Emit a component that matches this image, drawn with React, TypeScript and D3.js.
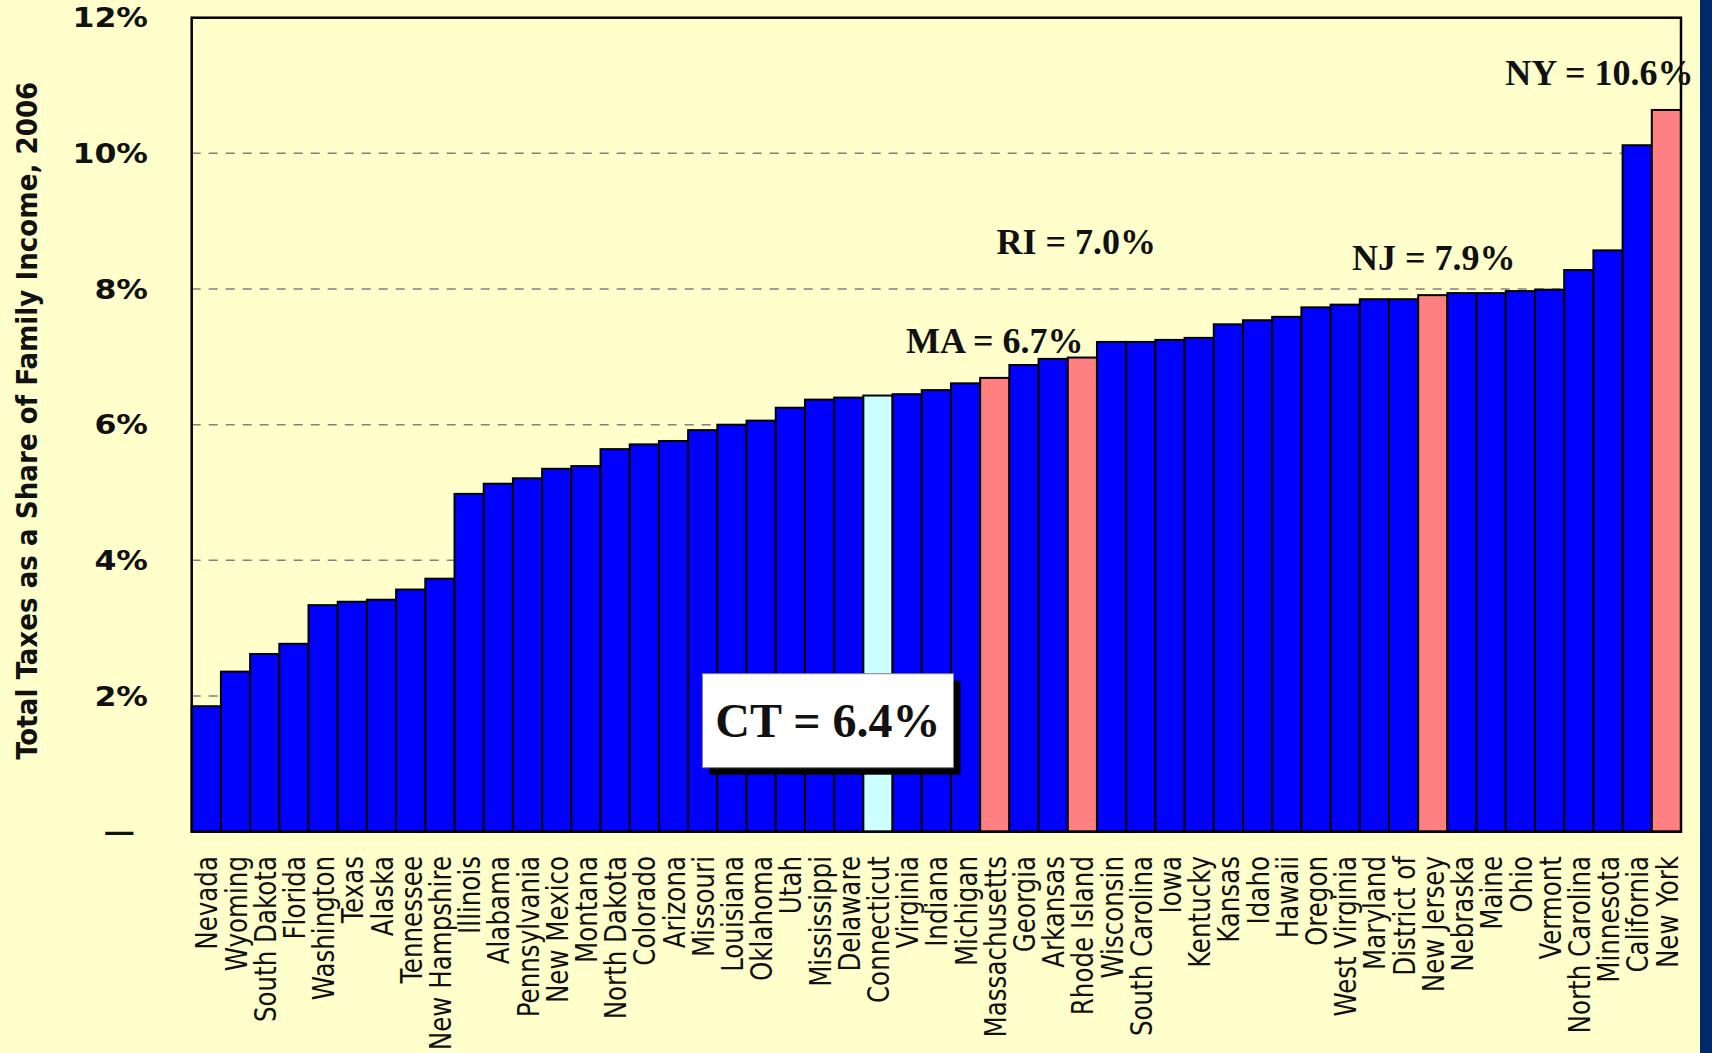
import React, { useEffect, useRef } from 'react';
import * as d3 from 'd3';

// States ordered from lowest to highest tax share
const states = [
  'Nevada', 'Wyoming', 'South Dakota', 'Florida', 'Washington', 'Texas', 'Alaska',
  'Tennessee', 'New Hampshire', 'Illinois', 'Alabama', 'Pennsylvania', 'New Mexico',
  'Montana', 'North Dakota', 'Colorado', 'Arizona', 'Missouri', 'Louisiana', 'Oklahoma',
  'Utah', 'Mississippi', 'Delaware', 'Connecticut', 'Virginia', 'Indiana', 'Michigan',
  'Massachusetts', 'Georgia', 'Arkansas', 'Rhode Island', 'Wisconsin', 'South Carolina',
  'Iowa', 'Kentucky', 'Kansas', 'Idaho', 'Hawaii', 'Oregon', 'West Virginia', 'Maryland',
  'District of', 'New Jersey', 'Nebraska', 'Maine', 'Ohio', 'Vermont', 'North Carolina',
  'Minnesota', 'California', 'New York'
];

// Total taxes as % of family income, 2006
const taxShare = [
  1.85, 2.36, 2.62, 2.77, 3.34, 3.39, 3.42,
  3.57, 3.73, 4.98, 5.13, 5.21, 5.35,
  5.39, 5.64, 5.71, 5.76, 5.92, 6.00, 6.06,
  6.25, 6.37, 6.40, 6.43, 6.45, 6.51, 6.61,
  6.69, 6.88, 6.97, 6.99, 7.22, 7.22,
  7.25, 7.28, 7.48, 7.54, 7.59, 7.73, 7.77, 7.85,
  7.85, 7.91, 7.94, 7.94, 7.97, 7.99, 8.28,
  8.57, 10.12, 10.64
];

const redStates = ['Massachusetts', 'Rhode Island', 'New Jersey', 'New York'];
const homeState = 'Connecticut';
const yTicks = [0, 2, 4, 6, 8, 10, 12];

// callout text, offset from the top-centre of its bar
const callouts = [
  { state: 'Massachusetts', label: 'MA = 6.7%', dx: 0, dy: -25 },
  { state: 'Rhode Island', label: 'RI = 7.0%', dx: -6, dy: -104 },
  { state: 'New Jersey', label: 'NJ = 7.9%', dx: 1, dy: -25 },
  { state: 'New York', label: 'NY = 10.6%', dx: -67, dy: -25 }
];
const homeLabel = 'CT = 6.4%';

const App: React.FC = () => {
  const svgRef = useRef<SVGSVGElement>(null);

  useEffect(() => {
    const svg = d3.select(svgRef.current);
    svg.selectAll('*').remove();

    const width = 1712;
    const height = 1053;
    const margin = { top: 17.7, right: 31, bottom: 221.3, left: 191.7 };
    const innerWidth = width - margin.left - margin.right;
    const innerHeight = height - margin.top - margin.bottom;

    const xScale = d3.scaleBand()
      .domain(states)
      .range([margin.left, margin.left + innerWidth])
      .padding(0);

    const yScale = d3.scaleLinear()
      .domain([0, 12])
      .range([margin.top + innerHeight, margin.top]);

    // background
    svg.append('rect')
      .attr('width', width)
      .attr('height', height)
      .attr('fill', '#ffffcc');

    svg.append('rect')
      .attr('x', 1700)
      .attr('width', width - 1700)
      .attr('height', height)
      .attr('fill', '#002a68');

    // dashed grid lines
    svg.append('g')
      .selectAll('line')
      .data(yTicks.filter(t => t > 0 && t < 12))
      .enter().append('line')
      .attr('x1', margin.left)
      .attr('x2', margin.left + innerWidth)
      .attr('y1', d => yScale(d))
      .attr('y2', d => yScale(d))
      .style('stroke', '#808080')
      .style('stroke-width', 1.5)
      .style('stroke-dasharray', '9,8');

    // bars
    const colorOf = (s: string) => {
      if (s === homeState) return '#ccffff';
      if (redStates.includes(s)) return '#ff8080';
      return '#0000ff';
    };

    svg.append('g')
      .selectAll('rect')
      .data(states)
      .enter().append('rect')
      .attr('x', d => xScale(d)!)
      .attr('y', (d, i) => yScale(taxShare[i]))
      .attr('width', xScale.bandwidth())
      .attr('height', (d, i) => yScale(0) - yScale(taxShare[i]))
      .style('fill', d => colorOf(d))
      .style('stroke', '#000')
      .style('stroke-width', 2);

    // plot frame
    svg.append('rect')
      .attr('x', margin.left)
      .attr('y', margin.top)
      .attr('width', innerWidth)
      .attr('height', innerHeight)
      .style('fill', 'none')
      .style('stroke', '#000')
      .style('stroke-width', 2.5);

    // y tick labels
    svg.append('g')
      .selectAll('text')
      .data(yTicks)
      .enter().append('text')
      .attr('transform', d => `translate(${d === 0 ? 135 : 148},${yScale(d)}) scale(1.17,1)`)
      .attr('dy', '0.36em')
      .attr('text-anchor', 'end')
      .style('font-family', '"DejaVu Sans", Verdana, sans-serif')
      .style('font-weight', 'bold')
      .style('font-size', '27px')
      .style('fill', '#111')
      .text(d => (d === 0 ? '\u2014' : `${d}%`));

    // y axis title
    svg.append('text')
      .attr('transform', `translate(37,${margin.top + innerHeight / 2 - 4}) rotate(-90)`)
      .attr('text-anchor', 'middle')
      .attr('textLength', 678)
      .attr('lengthAdjust', 'spacingAndGlyphs')
      .style('font-family', '"DejaVu Sans Condensed", "DejaVu Sans", sans-serif')
      .style('font-weight', 'bold')
      .style('font-size', '28px')
      .style('fill', '#111')
      .text('Total Taxes as a Share of Family Income, 2006');

    // x category labels
    svg.append('g')
      .selectAll('text')
      .data(states)
      .enter().append('text')
      .attr('transform', d =>
        `translate(${xScale(d)! + xScale.bandwidth() / 2},856) rotate(-90) scale(0.91,1)`)
      .attr('dy', '0.37em')
      .attr('text-anchor', 'end')
      .style('font-family', '"DejaVu Sans Condensed", "DejaVu Sans", sans-serif')
      .style('font-size', '30px')
      .style('fill', '#111')
      .text(d => d);

    // callouts
    svg.append('g')
      .selectAll('text')
      .data(callouts)
      .enter().append('text')
      .attr('x', d => xScale(d.state)! + xScale.bandwidth() / 2 + d.dx)
      .attr('y', d => yScale(taxShare[states.indexOf(d.state)]) + d.dy)
      .attr('text-anchor', 'middle')
      .style('font-family', '"Liberation Serif", "Times New Roman", serif')
      .style('font-weight', 'bold')
      .style('font-size', '36px')
      .style('fill', '#111')
      .text(d => d.label);

    // CT box
    const ctX = xScale(homeState)! + xScale.bandwidth() / 2 - 50;
    const ctY = yScale(0) - 111;
    const boxW = 251;
    const boxH = 94;
    const box = svg.append('g').attr('transform', `translate(${ctX},${ctY})`);
    box.append('rect')
      .attr('x', -boxW / 2 + 7)
      .attr('y', -boxH / 2 + 7)
      .attr('width', boxW)
      .attr('height', boxH)
      .style('fill', '#000');
    box.append('rect')
      .attr('x', -boxW / 2)
      .attr('y', -boxH / 2)
      .attr('width', boxW)
      .attr('height', boxH)
      .style('fill', '#fff')
      .style('stroke', '#808080')
      .style('stroke-width', 1);
    box.append('text')
      .attr('x', 0)
      .attr('y', 16)
      .attr('text-anchor', 'middle')
      .style('font-family', '"Liberation Serif", "Times New Roman", serif')
      .style('font-weight', 'bold')
      .style('font-size', '48px')
      .style('fill', '#111')
      .text(homeLabel);
  }, []);

  return (
    <svg
      ref={svgRef}
      width={1712}
      height={1053}
      style={{ position: 'absolute', left: 0, top: 0, display: 'block' }}
    />
  );
};

export default App;
